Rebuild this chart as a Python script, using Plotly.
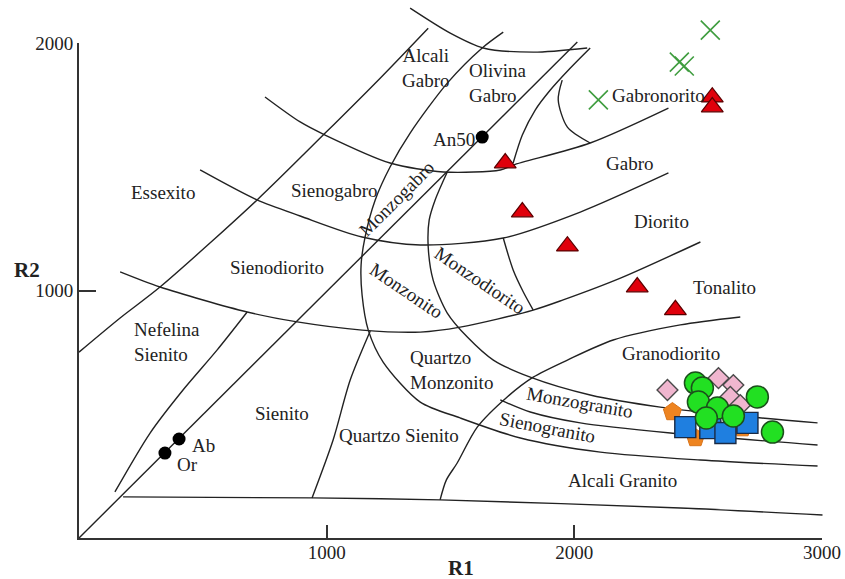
import plotly.graph_objects as go

# ---------------------------------------------------------------
# R1-R2 classification diagram (De la Roche et al.)
# R1 = 4Si - 11(Na+K) - 2(Fe+Ti),  R2 = 6Ca + 2Mg + Al
# ---------------------------------------------------------------

# Field boundaries (R1, R2)
ESSEXITO_EDGE_R1 = [0, 166, 327, 719, 994, 1216, 1410]
ESSEXITO_EDGE_R2 = [751, 889, 1014, 1366, 1636, 1858, 2060]

FELDSPAR_LINE_R1 = [0, 2012]
FELDSPAR_LINE_R2 = [0, 2004]

NEFELINA_EDGE_R1 = [145, 287, 420, 558, 679]
NEFELINA_EDGE_R2 = [186, 424, 598, 760, 913]

SIENODIORITO_BASE_R1 = [166, 327, 679, 881, 1143, 1378, 1539, 1834, 1955, 2186, 2509]
SIENODIORITO_BASE_R2 = [1075, 1014, 913, 873, 840, 832, 852, 921, 962, 1050, 1196]

SIENOGABRO_BASE_R1 = [489, 719, 893, 1143, 1378, 1713, 2024, 2380]
SIENOGABRO_BASE_R2 = [1487, 1366, 1301, 1216, 1184, 1212, 1317, 1475]

GABRO_BASE_R1 = [751, 893, 994, 1256, 1471, 1701, 1753, 2064, 2380]
GABRO_BASE_R2 = [1782, 1681, 1628, 1515, 1479, 1487, 1507, 1596, 1737]

TOP_ARC_R1 = [1337, 1499, 1632, 1834, 2052]
TOP_ARC_R2 = [2141, 2040, 1980, 1963, 1980]

MONZO_ARC_R1 = [1713, 1628, 1487, 1337, 1256, 1196, 1155, 1139, 1143, 1168,
                1228, 1378, 1539, 1782, 2105, 2509, 2982]
MONZO_ARC_R2 = [2044, 1980, 1838, 1636, 1499, 1366, 1216, 1103, 982, 840,
                711, 549, 485, 404, 347, 315, 291]

OLIVINA_EDGE_R1 = [1753, 1790, 1842, 1903, 1984, 2064]
OLIVINA_EDGE_R2 = [1515, 1628, 1729, 1810, 1899, 1980]

GABRONORITO_EDGE_R1 = [1951, 1935, 1972, 2064]
GABRONORITO_EDGE_R2 = [1850, 1770, 1660, 1596]

MONZODIORITO_ARC_R1 = [1487, 1438, 1414, 1410, 1430, 1487, 1568, 1673, 1822,
                       2064, 2347, 2670, 2982]
MONZODIORITO_ARC_R2 = [1479, 1366, 1285, 1176, 1042, 909, 812, 719, 650,
                       578, 529, 493, 465]

DIORITO_EDGE_R1 = [1713, 1753, 1794, 1834]
DIORITO_EDGE_R2 = [1212, 1083, 994, 921]

QZ_SIENITO_EDGE_R1 = [1176, 1095, 1026, 941]
QZ_SIENITO_EDGE_R2 = [836, 638, 396, 162]

GRANODIORITO_BASE_R1 = [1458, 1483, 1527, 1608, 1729, 1834, 1972, 2157, 2428, 2670]
GRANODIORITO_BASE_R2 = [154, 234, 303, 448, 570, 650, 719, 800, 861, 893]

SIENOGRANITO_TOP_R1 = [1701, 1822, 2024, 2388, 2982]
SIENOGRANITO_TOP_R2 = [558, 509, 465, 424, 376]

GRANITO_BASE_R1 = [178, 941, 1458, 2428, 3002]
GRANITO_BASE_R2 = [166, 162, 154, 121, 93]

# Feldspar reference compositions
FELDSPAR_NAMES = ["Or", "Ab", "An50"]
FELDSPAR_R1 = [347, 404, 1628]
FELDSPAR_R2 = [343, 400, 1620]

# Samples
TRIANGLE_R1 = [1721, 1790, 1972, 2254, 2408, 2557, 2557]
TRIANGLE_R2 = [1515, 1317, 1179, 1014, 922, 1781, 1741]

CROSS_R1 = [2097, 2424, 2444, 2549]
CROSS_R2 = [1770, 1923, 1907, 2052]

DIAMOND_R1 = [2376, 2582, 2642, 2630, 2670]
DIAMOND_R2 = [598, 646, 618, 570, 537]

SQUARE_R1 = [2448, 2549, 2610, 2699]
SQUARE_R2 = [448, 444, 424, 465]

PENTAGON_R1 = [2396, 2489, 2679]
PENTAGON_R2 = [509, 404, 444]

CIRCLE_R1 = [2489, 2517, 2501, 2578, 2533, 2642, 2739, 2800]
CIRCLE_R2 = [626, 606, 549, 525, 485, 493, 570, 428]

# Field names
FIELD_NAMES = ["Alcali<br>Gabro", "Olivina<br>Gabro", "Gabronorito", "Essexito",
               "Sienogabro", "Monzogabro", "Sienodiorito", "Monzonito",
               "Monzodiorito", "Gabro", "Diorito", "Tonalito",
               "Nefelina<br>Sienito", "Sienito", "Quartzo Sienito",
               "Quartzo<br>Monzonito", "Granodiorito", "Monzogranito",
               "Sienogranito", "Alcali Granito"]

# Axis ticks
X_TICKS = [1000, 2000, 3000]
Y_TICKS = [1000, 2000]

# ---------------------------------------------------------------
# Layout geometry
# ---------------------------------------------------------------
W, H = 845, 579
ML, MR, MT, MB = 59, 3, 0, 21
PLOT_W = W - ML - MR
PLOT_H = H - MT - MB
X0_PX, X1_PX = 79, 822     # R1 = 0 and R1 = 3000
Y0_PX, Y1_PX = 538, 43     # R2 = 0 and R2 = 2000

sx = (X1_PX - X0_PX) / 3000.0
sy = (Y0_PX - Y1_PX) / 2000.0
x_range = [-(X0_PX - ML) / sx, 3000 + (W - MR - X1_PX) / sx]
y_range = [-(MT + PLOT_H - Y0_PX) / sy, 2000 + (Y1_PX - MT) / sy]
x2_domain = [(X0_PX - ML) / PLOT_W, (X1_PX - ML) / PLOT_W]
y2_domain = [(MT + PLOT_H - Y0_PX) / PLOT_H, (MT + PLOT_H - Y1_PX) / PLOT_H]

SERIF = "Liberation Serif, Times New Roman, serif"
INK = "#222222"
FS = 19

fig = go.Figure()

boundaries = [
    (ESSEXITO_EDGE_R1, ESSEXITO_EDGE_R2),
    (FELDSPAR_LINE_R1, FELDSPAR_LINE_R2),
    (NEFELINA_EDGE_R1, NEFELINA_EDGE_R2),
    (SIENODIORITO_BASE_R1, SIENODIORITO_BASE_R2),
    (SIENOGABRO_BASE_R1, SIENOGABRO_BASE_R2),
    (GABRO_BASE_R1, GABRO_BASE_R2),
    (TOP_ARC_R1, TOP_ARC_R2),
    (MONZO_ARC_R1, MONZO_ARC_R2),
    (OLIVINA_EDGE_R1, OLIVINA_EDGE_R2),
    (GABRONORITO_EDGE_R1, GABRONORITO_EDGE_R2),
    (MONZODIORITO_ARC_R1, MONZODIORITO_ARC_R2),
    (DIORITO_EDGE_R1, DIORITO_EDGE_R2),
    (QZ_SIENITO_EDGE_R1, QZ_SIENITO_EDGE_R2),
    (GRANODIORITO_BASE_R1, GRANODIORITO_BASE_R2),
    (SIENOGRANITO_TOP_R1, SIENOGRANITO_TOP_R2),
    (GRANITO_BASE_R1, GRANITO_BASE_R2),
]
for bx, by in boundaries:
    fig.add_trace(go.Scatter(
        x=bx, y=by, mode="lines",
        line=dict(color=INK, width=1.4, shape="spline", smoothing=0.8),
        hoverinfo="skip", showlegend=False))

# feldspar points
fig.add_trace(go.Scatter(
    x=FELDSPAR_R1, y=FELDSPAR_R2, mode="markers",
    marker=dict(symbol="circle", size=13, color="black"),
    showlegend=False))

# samples
fig.add_trace(go.Scatter(
    x=TRIANGLE_R1, y=TRIANGLE_R2, mode="markers",
    marker=dict(symbol="triangle-up", size=19, color="#e0000b",
                line=dict(color="#5a0000", width=1.2)),
    showlegend=False))
fig.add_trace(go.Scatter(
    x=CROSS_R1, y=CROSS_R2, mode="markers",
    marker=dict(symbol="x-thin-open", size=19, color="#3f9d3f",
                line=dict(color="#3f9d3f", width=1.6)),
    showlegend=False))
fig.add_trace(go.Scatter(
    x=DIAMOND_R1, y=DIAMOND_R2, mode="markers",
    marker=dict(symbol="diamond", size=16, color="#f0b6cf",
                line=dict(color="#4a4a4a", width=1.4)),
    showlegend=False))
fig.add_trace(go.Scatter(
    x=PENTAGON_R1, y=PENTAGON_R2, mode="markers",
    marker=dict(symbol="pentagon", size=19, color="#ee8420",
                line=dict(color="#d9741a", width=1)),
    showlegend=False))
fig.add_trace(go.Scatter(
    x=SQUARE_R1, y=SQUARE_R2, mode="markers",
    marker=dict(symbol="square", size=21, color="#1f7fe0",
                line=dict(color="#1a2a44", width=1.4)),
    showlegend=False))
fig.add_trace(go.Scatter(
    x=CIRCLE_R1, y=CIRCLE_R2, mode="markers",
    marker=dict(symbol="circle", size=22, color="#22e022",
                line=dict(color="#1c4f1c", width=1.5)),
    showlegend=False))

# empty trace that holds the framed axes subplot
fig.add_trace(go.Scatter(x=[None], y=[None], xaxis="x2", yaxis="y2",
                         mode="markers", showlegend=False, hoverinfo="skip"))

# field name placement: (R1, R2, angle, anchor)
field_pos = [
    (1398, 1899, 0, "center"), (1568, 1838, 0, "left"), (2145, 1786, 0, "left"),
    (339, 1398, 0, "center"), (1030, 1406, 0, "center"), (1283, 1372, -45, "center"),
    (800, 1091, 0, "center"), (1321, 1002, 34, "center"), (1620, 1042, 34, "center"),
    (2222, 1515, 0, "center"), (2351, 1277, 0, "center"), (2606, 1014, 0, "center"),
    (214, 792, 0, "left"), (820, 505, 0, "center"), (1293, 416, 0, "center"),
    (1329, 679, 0, "left"), (2392, 747, 0, "center"), (2024, 549, 10, "center"),
    (1891, 448, 11, "center"), (2194, 234, 0, "center"),
]
annotations = []
for name, (ax_, ay_, ang, anc) in zip(FIELD_NAMES, field_pos):
    annotations.append(dict(
        x=ax_, y=ay_, xref="x", yref="y", text=name, showarrow=False,
        textangle=ang, xanchor=anc, yanchor="middle", align=anc,
        font=dict(family=SERIF, size=FS, color=INK)))

# feldspar labels
feld_label_pos = [(388, 295, "left"), (448, 372, "left"), (1608, 1612, "right")]
for name, (ax_, ay_, anc) in zip(FELDSPAR_NAMES, feld_label_pos):
    annotations.append(dict(
        x=ax_, y=ay_, xref="x", yref="y", text=name, showarrow=False,
        xanchor=anc, yanchor="middle",
        font=dict(family=SERIF, size=FS, color=INK)))

# axis titles
annotations.append(dict(
    x=(27 - ML) / PLOT_W, y=(MT + PLOT_H - 270) / PLOT_H, xref="paper", yref="paper",
    text="<b>R2</b>", showarrow=False, xanchor="center", yanchor="middle",
    font=dict(family=SERIF, size=21, color=INK)))
annotations.append(dict(
    x=(461 - ML) / PLOT_W, y=(MT + PLOT_H - 568) / PLOT_H, xref="paper", yref="paper",
    text="<b>R1</b>", showarrow=False, xanchor="center", yanchor="middle",
    font=dict(family=SERIF, size=21, color=INK)))

hidden = dict(visible=False, fixedrange=True, automargin=False)
fig.update_layout(
    width=W, height=H, autosize=False,
    margin=dict(l=ML, r=MR, t=MT, b=MB, pad=0, autoexpand=False),
    paper_bgcolor="white", plot_bgcolor="rgba(0,0,0,0)",
    showlegend=False,
    xaxis=dict(range=x_range, domain=[0, 1], **hidden),
    yaxis=dict(range=y_range, domain=[0, 1], **hidden),
    xaxis2=dict(
        range=[0, 3000], domain=x2_domain, anchor="y2", automargin=False,
        showline=True, linecolor="#333333", linewidth=2,
        showgrid=False, zeroline=False, fixedrange=True,
        tickvals=X_TICKS, ticktext=[str(v) for v in X_TICKS], ticks="",
        ticklabelstandoff=-4,
        tickfont=dict(family=SERIF, size=FS, color=INK),
        minor=dict(tickvals=X_TICKS[:-1], ticks="inside", ticklen=13,
                   tickwidth=1.5, tickcolor="#333333"),
    ),
    yaxis2=dict(
        range=[0, 2000], domain=y2_domain, anchor="x2", automargin=False,
        showline=True, linecolor="#333333", linewidth=2,
        showgrid=False, zeroline=False, fixedrange=True,
        tickvals=Y_TICKS, ticktext=[str(v) for v in Y_TICKS],
        ticks="inside", ticklen=17, tickwidth=1.5, tickcolor="#333333",
        tickfont=dict(family=SERIF, size=FS, color=INK),
    ),
    annotations=annotations,
)

fig.write_html("out.html")
